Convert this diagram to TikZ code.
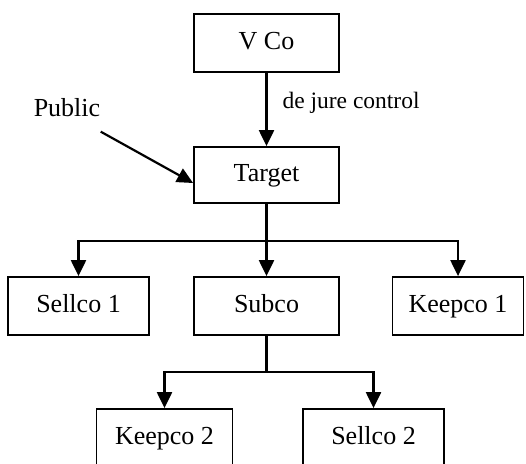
\documentclass[tikz,border=0pt]{standalone}
\usepackage{fontspec}
\setmainfont{Liberation Serif}
\usepackage{tikz}
\usetikzlibrary{arrows.meta,positioning}

\begin{document}
\begin{tikzpicture}[
    x=1pt, y=-1pt,
    font=\fontsize{26}{30}\selectfont,
    company/.style={rectangle, draw, line width=1.8pt, minimum width=145pt, minimum height=58pt, inner sep=0pt, text height=18pt, text depth=6pt},
    arrow/.style={-{Triangle[length=16pt,width=15pt]}, line width=2.2pt},
    link/.style={line width=2.2pt}
]
    \useasboundingbox (0,0) rectangle (526,463);

    % Companies
    \node[company] (vco) at (266.5,43) {V Co};
    \node[company, minimum height=56pt] (target) at (266.5,175) {Target};
    \node[company, minimum width=141pt] (sellco1) at (78.5,306) {Sellco 1};
    \node[company] (subco) at (266.5,306) {Subco};
    \node[company, minimum width=131pt] (keepco1) at (458,306) {Keepco 1};
    \node[company, minimum width=136pt] (keepco2) at (164.5,438) {Keepco 2};
    \node[company, minimum width=141pt] (sellco2) at (373.5,438) {Sellco 2};

    % Public shareholders
    \node (public) at (67,108) {Public};

    % Control
    \draw[arrow] (vco) -- (target);
    \node[anchor=west, font=\fontsize{23.5}{28}\selectfont] (jure) at (279,103) {de jure control};
    \draw[arrow] ([xshift=-3pt,yshift=-11pt]public.south east) -- ([yshift=-8pt]target.west);

    % Target splits
    \coordinate (split1) at (266.5,241);
    \draw[link] (target) -- (split1);
    \draw[arrow] (split1) -| (sellco1);
    \draw[arrow] (split1) -- (subco);
    \draw[arrow] (split1) -| (keepco1);

    % Subco splits
    \coordinate (split2) at (266.5,372);
    \draw[link] (subco) -- (split2);
    \draw[arrow] (split2) -| (keepco2);
    \draw[arrow] (split2) -| (sellco2);

\end{tikzpicture}
\end{document}
